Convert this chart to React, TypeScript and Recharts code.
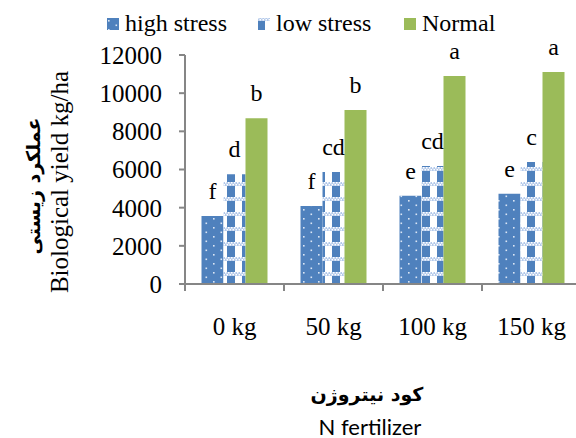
import { BarChart, Bar, XAxis, YAxis, LabelList } from "recharts"

const categories = ["0 kg", "50 kg", "100 kg", "150 kg"]
const highStress = [3560, 4090, 4630, 4730]
const lowStress = [5750, 5870, 6180, 6390]
const normal = [8680, 9120, 10900, 11110]
const highLetters = ["f", "f", "e", "e"]
const lowLetters = ["d", "cd", "cd", "c"]
const normalLetters = ["b", "b", "a", "a"]
const yTicks = [0, 2000, 4000, 6000, 8000, 10000, 12000]

const series = [
  { key: "high", letters: "hl", name: "high stress", fill: "url(#hsPat)", legendX: 107 },
  { key: "low", letters: "ll", name: "low stress", fill: "url(#lsPat)", legendX: 258 },
  { key: "normal", letters: "nl", name: "Normal", fill: "#9BBB59", legendX: 404 },
]

const data = categories.map((name, i) => ({
  name,
  high: highStress[i],
  low: lowStress[i],
  normal: normal[i],
  hl: highLetters[i],
  ll: lowLetters[i],
  nl: normalLetters[i],
}))

const blue = "#4F81BD"
const axisGray = "#868686"
const serif = "Liberation Serif, Times New Roman, DejaVu Serif, serif"
const arabic = "DejaVu Sans, sans-serif"

function Patterns() {
  return (
    <defs>
      <pattern id="hsPat" width="15" height="9" patternUnits="userSpaceOnUse">
        <rect width="15" height="9" fill={blue} />
        <rect x="3" y="2" width="1.6" height="1.6" fill="#dbe6f5" />
        <rect x="10.5" y="6.5" width="1.6" height="1.6" fill="#dbe6f5" />
      </pattern>
      <pattern id="lsPat" width="15" height="15" patternUnits="userSpaceOnUse">
        <rect width="15" height="15" fill="#ffffff" />
        <rect x="2" width="8" height="15" fill={blue} />
        <rect y="2" width="15" height="4" fill="#b3c9ea" />
        <rect x="0" y="2" width="1.5" height="1.5" fill="#fff" />
        <rect x="3" y="2" width="1.5" height="1.5" fill="#fff" />
        <rect x="6" y="2" width="1.5" height="1.5" fill="#fff" />
        <rect x="9" y="2" width="1.5" height="1.5" fill="#fff" />
        <rect x="12" y="2" width="1.5" height="1.5" fill="#fff" />
        <rect x="1.5" y="4" width="1.5" height="1.5" fill="#fff" />
        <rect x="4.5" y="4" width="1.5" height="1.5" fill="#fff" />
        <rect x="7.5" y="4" width="1.5" height="1.5" fill="#fff" />
        <rect x="10.5" y="4" width="1.5" height="1.5" fill="#fff" />
        <rect x="13.5" y="4" width="1.5" height="1.5" fill="#fff" />
      </pattern>
    </defs>
  )
}

// category label plus Excel-style ticks on the category boundaries
// (y here sits 6px below the axis line: default tickSize, no margin)
function CatTick(props: any) {
  const { x, y, payload, width } = props
  const half = Number(width) / categories.length / 2
  const top = y - 6
  return (
    <g>
      <line x1={x - half} x2={x - half} y1={top} y2={top + 7} stroke={axisGray} strokeWidth={2} />
      <line x1={x + half} x2={x + half} y1={top} y2={top + 7} stroke={axisGray} strokeWidth={2} />
      <text x={x} y={top + 51} textAnchor="middle" fontFamily={serif} fontSize={25} fill="#000">
        {payload.value}
      </text>
    </g>
  )
}

function Letter(props: any) {
  const { x, y, width, value } = props
  return (
    <text x={x + width / 2} y={y - 17} textAnchor="middle" fontFamily={serif} fontSize={24} fill="#000">
      {value}
    </text>
  )
}

function Titles() {
  return (
    <g>
      {series.map((s) => (
        <g key={s.key}>
          <rect x={s.legendX} y={18} width={12} height={12} fill={s.fill} />
          <text x={s.legendX + 18} y={31} fontFamily={serif} fontSize={24} fill="#000">
            {s.name}
          </text>
        </g>
      ))}
      <text transform="translate(59,182) rotate(-90)" textAnchor="middle" dominantBaseline="central" fontFamily={serif} fontSize={25} fill="#000">
        Biological yield kg/ha
      </text>
      <text transform="translate(33,186) rotate(-90)" textAnchor="middle" dominantBaseline="central" fontFamily={arabic} fontWeight="bold" fontSize={19} fill="#000">
        عملکرد زیستی
      </text>
      <text x={367} y={394} textAnchor="middle" dominantBaseline="central" fontFamily={arabic} fontWeight="bold" fontSize={19} fill="#000">
        کود نیتروژن
      </text>
      <text x={370} y={426} textAnchor="middle" dominantBaseline="central" fontFamily="Lato, sans-serif" fontSize={22} fill="#000">
        N fertilizer
      </text>
    </g>
  )
}

export default function App() {
  return (
    <div style={{ position: "absolute", left: 0, top: 0, width: 576, height: 438, overflow: "hidden", background: "#fff" }}>
      <BarChart
        width={600}
        height={438}
        data={data}
        margin={{ top: 55, right: 19, bottom: 94, left: 0 }}
        barCategoryGap={16.5}
        barGap={0}
      >
        <Patterns />
        <XAxis
          dataKey="name"
          height={60}
          interval={0}
          tickMargin={0}
          tickLine={false}
          axisLine={{ stroke: axisGray, strokeWidth: 2 }}
          tick={<CatTick />}
        />
        <YAxis
          width={185}
          domain={[0, 12000]}
          ticks={yTicks}
          interval={0}
          tickSize={6}
          tickMargin={17}
          axisLine={{ stroke: axisGray, strokeWidth: 2 }}
          tickLine={{ stroke: axisGray, strokeWidth: 2 }}
          tick={{ fontFamily: serif, fontSize: 25, fill: "#000" }}
        />
        {series.map((s) => (
          <Bar key={s.key} dataKey={s.key} fill={s.fill} isAnimationActive={false}>
            <LabelList dataKey={s.letters} content={<Letter />} />
          </Bar>
        ))}
        <Titles />
      </BarChart>
    </div>
  )
}
